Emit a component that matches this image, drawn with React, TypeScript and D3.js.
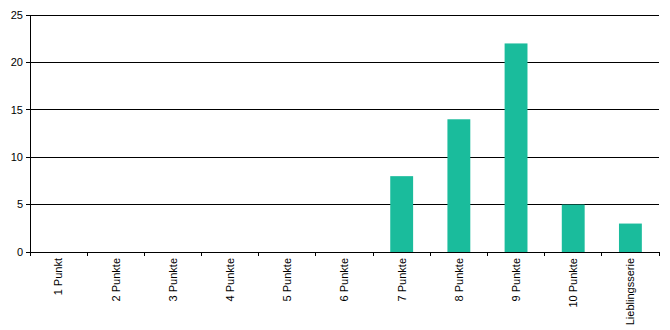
import React from "react";
import * as d3 from "d3";

const categories = ["1 Punkt", "2 Punkte", "3 Punkte", "4 Punkte", "5 Punkte", "6 Punkte", "7 Punkte", "8 Punkte", "9 Punkte", "10 Punkte", "Lieblingsserie"];
const values = [0, 0, 0, 0, 0, 0, 8, 14, 22, 5, 3];
const yTicks = [0, 5, 10, 15, 20, 25];

export default function App() {
  const W = 670, H = 330;
  const left = 30, right = 659, top = 15, bottom = 252;
  const x = d3.scaleBand<string>().domain(categories).range([left, right]).paddingInner(0).paddingOuter(0);
  const y = d3.scaleLinear().domain([0, 25]).range([bottom, top]);
  const bw = x.bandwidth() * 0.4;
  const font = "Liberation Sans, Arial, sans-serif";
  const boundaries = categories.map((c) => x(c)!).concat([right]);
  return (
    <svg width={W} height={H} style={{ position: "absolute", left: 0, top: 0 }}>
      <rect x={0} y={0} width={W} height={H} fill="#fff" />
      {yTicks.map((t) => (
        <g key={t}>
          {t > 0 && <line x1={left} x2={right} y1={y(t)} y2={y(t)} stroke="#000" strokeWidth={1} shapeRendering="crispEdges" />}
          <line x1={left - 4} x2={left} y1={y(t)} y2={y(t)} stroke="#000" shapeRendering="crispEdges" />
          <text x={left - 7} y={y(t)} dy="0.35em" textAnchor="end" fontFamily={font} fontSize={11} fill="#000">{t}</text>
        </g>
      ))}
      {categories.map((c, i) => (
        values[i] > 0 ? (
          <rect key={c} x={x(c)! + (x.bandwidth() - bw) / 2} y={y(values[i])} width={bw} height={bottom - y(values[i])} fill="#1abc9c" />
        ) : null
      ))}
      <line x1={left} x2={left} y1={top} y2={bottom} stroke="#000" shapeRendering="crispEdges" />
      <line x1={left} x2={right} y1={bottom} y2={bottom} stroke="#000" shapeRendering="crispEdges" />
      {boundaries.map((b, i) => (
        <line key={i} x1={b} x2={b} y1={bottom} y2={bottom + 4} stroke="#000" shapeRendering="crispEdges" />
      ))}
      {categories.map((c) => (
        <text key={c} transform={`translate(${x(c)! + x.bandwidth() / 2},${bottom + 6}) rotate(-90)`} dy="0.35em" textAnchor="end" fontFamily={font} fontSize={11} fill="#000">{c}</text>
      ))}
    </svg>
  );
}
